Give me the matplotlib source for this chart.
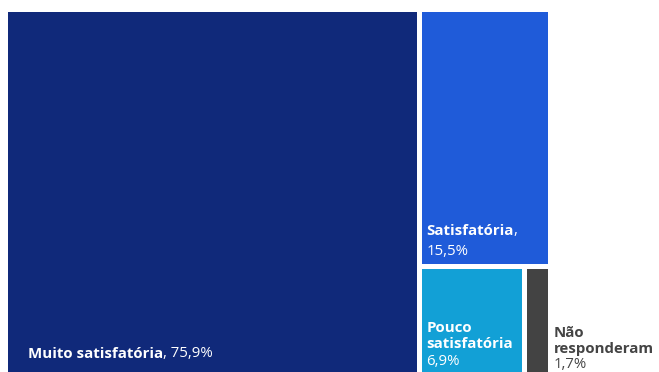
import matplotlib
matplotlib.use('Agg')
import matplotlib.pyplot as plt
from matplotlib.patches import Rectangle

categories = ["Muito satisfatória", "Satisfatória", "Pouco satisfatória", "Não responderam"]
values = [75.9, 15.5, 6.9, 1.7]
colors = ["#10297a", "#1f5bd9", "#12a0d6", "#434343"]

FONT = "Open Sans"
FS = 10.8
W, H = 545, 400      # full treemap area (bottom part is cut off by the view)
VIEW_H = 362.5
GAP = 2.5


def fmt(v):
    return f"{v:.1f}".replace('.', ',') + '%'


def slice_layout(vals, x, y, w, h):
    # slice-and-dice: alternate vertical / horizontal cuts
    rects = []
    for i, v in enumerate(vals):
        if i == len(vals) - 1:
            rects.append((x, y, w, h))
            break
        frac = v / sum(vals[i:])
        if i % 2 == 0:
            rects.append((x, y, w * frac, h))
            x, w = x + w * frac, w * (1 - frac)
        else:
            rects.append((x, y, w, h * frac))
            y, h = y + h * frac, h * (1 - frac)
    return rects


fig = plt.figure(figsize=(6.59, 3.72), dpi=100)
ax = fig.add_axes([5.5 / 659, 0, W / 659, VIEW_H / 372])
ax.set_xlim(0, W)
ax.set_ylim(VIEW_H, 0)
ax.axis('off')

rects = slice_layout(values, 0, 0, W, H)
for (x, y, w, h), c in zip(rects, colors):
    ax.add_patch(Rectangle((x + GAP, y + GAP), w - 2 * GAP, h - 2 * GAP,
                           facecolor=c, edgecolor='none'))


def mixed(x, y, bold, regular, color):
    t = ax.text(x, y, bold, fontsize=FS, fontweight='bold', color=color,
                family=FONT, va='baseline', ha='left')
    ax.annotate(regular, xy=(1, 0), xycoords=t, va='bottom', ha='left',
                fontsize=FS, color=color, family=FONT)


def lines(x, ys, texts, weights, color):
    for yy, s, wt in zip(ys, texts, weights):
        ax.text(x, yy, s, fontsize=FS, fontweight=wt, color=color,
                family=FONT, va='baseline', ha='left')


# Muito satisfatória
x0 = rects[0][0]
mixed(x0 + 22.5, 348.5, categories[0], ", " + fmt(values[0]), 'white')

# Satisfatória
x1 = rects[1][0]
mixed(x1 + 7, 225, categories[1], ",", 'white')
lines(x1 + 7, [245.5], [fmt(values[1])], ['normal'], 'white')

# Pouco satisfatória
x2 = rects[2][0]
w2 = categories[2].split(' ')
lines(x2 + 7, [322.5, 338, 355.5], [w2[0], w2[1], fmt(values[2])],
      ['bold', 'bold', 'normal'], 'white')

# Não responderam (label outside, to the right)
x3 = rects[3][0] + rects[3][2]
w3 = categories[3].split(' ')
lines(x3 + 3, [327.5, 343.5, 359], [w3[0], w3[1], fmt(values[3])],
      ['bold', 'bold', 'normal'], '#444444')

fig.savefig('out.png', dpi=100)
